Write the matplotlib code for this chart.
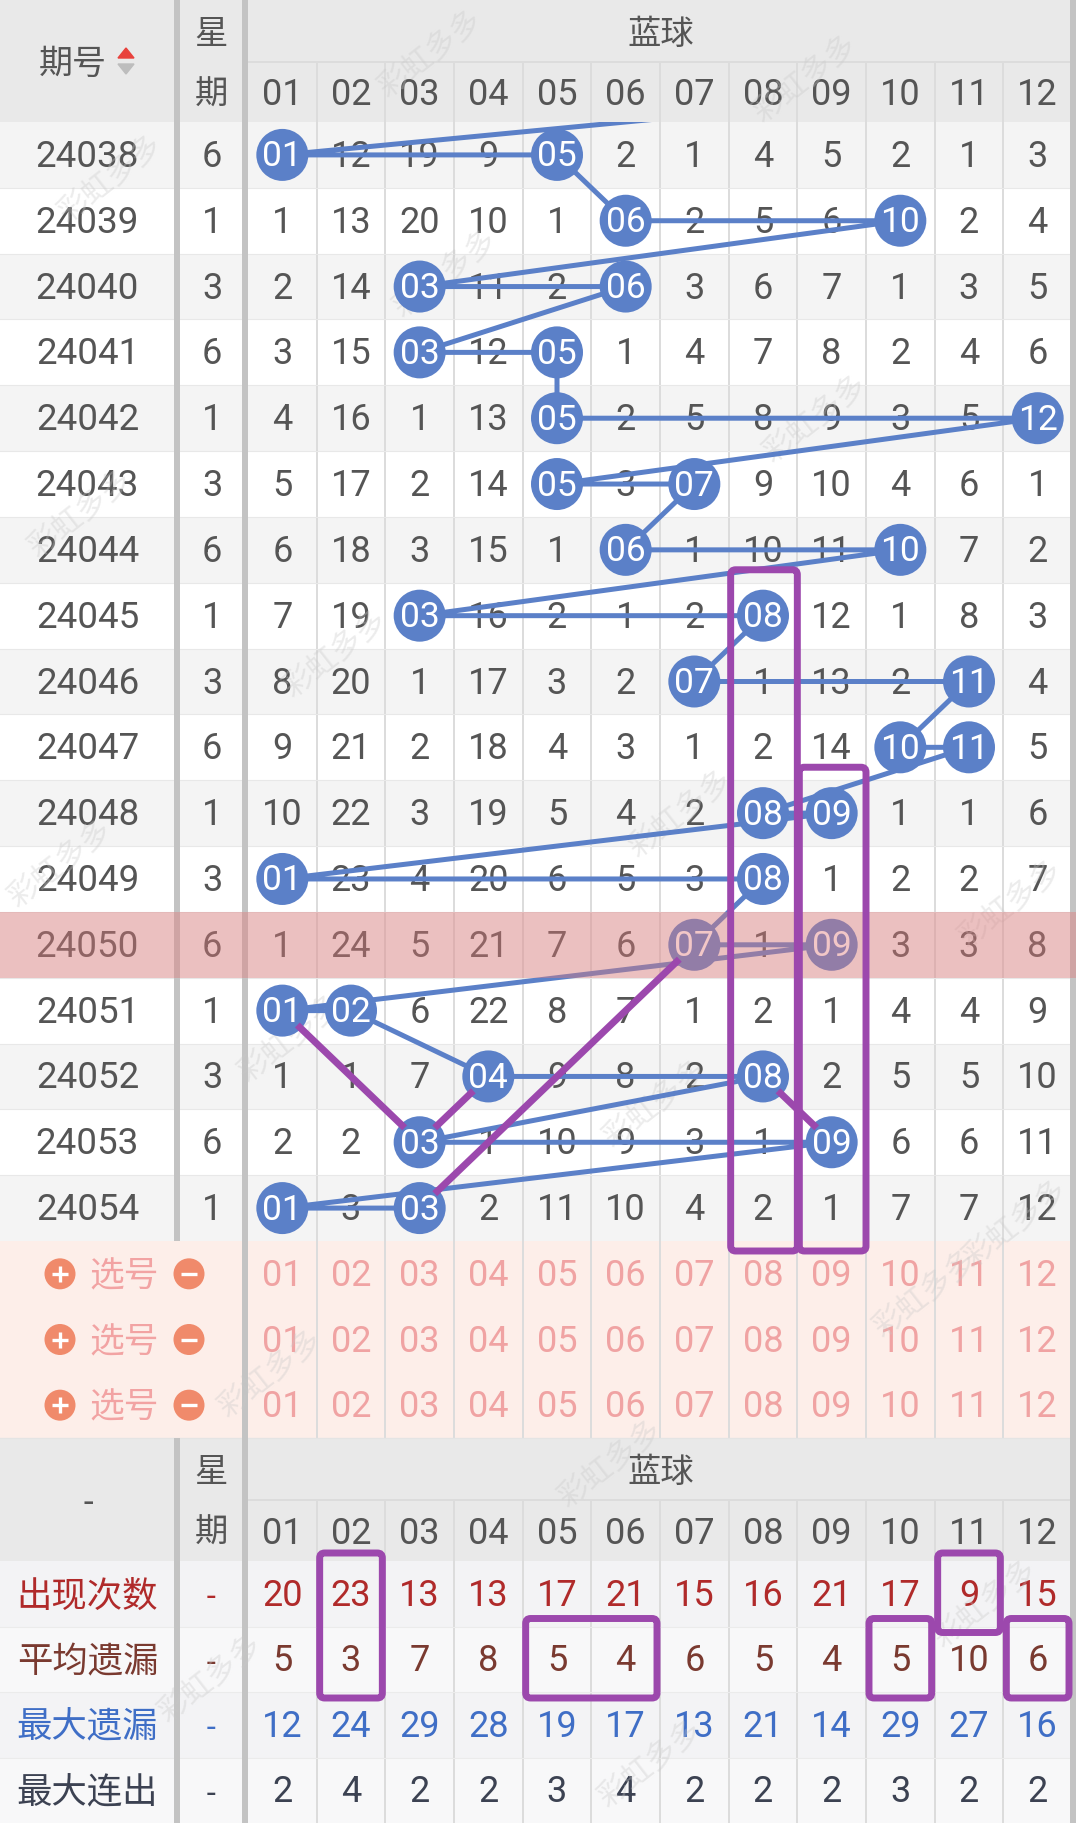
import matplotlib
matplotlib.use("Agg")
import matplotlib.pyplot as plt
from matplotlib.patches import Rectangle, Circle, FancyBboxPatch, Polygon

# ---------------- data ----------------
issues = [24038, 24039, 24040, 24041, 24042, 24043, 24044, 24045, 24046,
          24047, 24048, 24049, 24050, 24051, 24052, 24053, 24054]
weekdays = [6, 1, 3, 6, 1, 3, 6, 1, 3, 6, 1, 3, 6, 1, 3, 6, 1]
draws = [(1, 5), (6, 10), (3, 6), (3, 5), (5, 12), (5, 7), (6, 10), (3, 8),
         (7, 11), (10, 11), (8, 9), (1, 8), (7, 9), (1, 2), (4, 8), (3, 9), (1, 3)]
# omission count shown in each cell (0 = drawn ball)
omission = [
    [0, 12, 19, 9, 0, 2, 1, 4, 5, 2, 1, 3],
    [1, 13, 20, 10, 1, 0, 2, 5, 6, 0, 2, 4],
    [2, 14, 0, 11, 2, 0, 3, 6, 7, 1, 3, 5],
    [3, 15, 0, 12, 0, 1, 4, 7, 8, 2, 4, 6],
    [4, 16, 1, 13, 0, 2, 5, 8, 9, 3, 5, 0],
    [5, 17, 2, 14, 0, 3, 0, 9, 10, 4, 6, 1],
    [6, 18, 3, 15, 1, 0, 1, 10, 11, 0, 7, 2],
    [7, 19, 0, 16, 2, 1, 2, 0, 12, 1, 8, 3],
    [8, 20, 1, 17, 3, 2, 0, 1, 13, 2, 0, 4],
    [9, 21, 2, 18, 4, 3, 1, 2, 14, 0, 0, 5],
    [10, 22, 3, 19, 5, 4, 2, 0, 0, 1, 1, 6],
    [0, 23, 4, 20, 6, 5, 3, 0, 1, 2, 2, 7],
    [1, 24, 5, 21, 7, 6, 0, 1, 0, 3, 3, 8],
    [0, 0, 6, 22, 8, 7, 1, 2, 1, 4, 4, 9],
    [1, 1, 7, 0, 9, 8, 2, 0, 2, 5, 5, 10],
    [2, 2, 0, 1, 10, 9, 3, 1, 0, 6, 6, 11],
    [0, 3, 0, 2, 11, 10, 4, 2, 1, 7, 7, 12],
]
prev_last_ball = 11          # last ball of issue 24037 (line enters from above)
highlight_issue = 24050
ball_labels = ["01", "02", "03", "04", "05", "06", "07", "08", "09", "10", "11", "12"]
pick_rows = 3
stat_names = ["出现次数", "平均遗漏", "最大遗漏", "最大连出"]
appear_count = [20, 23, 13, 13, 17, 21, 15, 16, 21, 17, 9, 15]
avg_miss = [5, 3, 7, 8, 5, 4, 6, 5, 4, 5, 10, 6]
max_miss = [12, 24, 29, 28, 19, 17, 13, 21, 14, 29, 27, 16]
max_streak = [2, 4, 2, 2, 3, 4, 2, 2, 2, 3, 2, 2]
# user annotations
marked_columns = [(8, 24045, 24054), (9, 24048, 24054)]
marked_links = [((24051, 1), (24053, 3)), ((24053, 3), (24052, 4)),
                ((24054, 3), (24050, 7)), ((24052, 8), (24053, 9))]
marked_stats = [(2, 2, 0, 1), (5, 6, 1, 1), (10, 10, 1, 1), (11, 11, 0, 0), (12, 12, 1, 1)]
watermark_text = "彩虹多多"

# ---------------- layout ----------------
W, H = 1080, 1823
DIV1, DIV2, RIGHT = 177, 245, 1073
X0 = 248
CW = (1072 - X0) / 12
Y_H1, Y_H2, Y_D0 = 0, 62, 122
NROW = len(issues)
RH = (1241 - Y_D0) / NROW
Y_P0 = Y_D0 + RH * NROW
PRH = (1438 - Y_P0) / pick_rows
Y_B0 = Y_P0 + PRH * pick_rows
Y_B1 = Y_B0 + 62
Y_S0 = Y_B1 + 61
SRH = (H - Y_S0) / 4
R_BALL = 26

BLUE = "#5b80c8"
PURPLE = "#9c48ad"
TXT = "#555555"
HDR_BG = "#e9e9e9"
CJK = ["Noto Sans CJK SC", "DejaVu Sans"]
NUMF = ["Roboto", "DejaVu Sans"]


def cx(col):
    return X0 + (col - 0.5) * CW


def cy(row):
    return Y_D0 + (row + 0.5) * RH


fig = plt.figure(figsize=(W / 100, H / 100), dpi=100)
ax = fig.add_axes([0, 0, 1, 1])
ax.set_xlim(0, W)
ax.set_ylim(H, 0)
ax.axis("off")


def rect(x0, y0, x1, y1, color, z=0, **kw):
    ax.add_patch(Rectangle((x0, y0), x1 - x0, y1 - y0, facecolor=color,
                           edgecolor="none", zorder=z, **kw))


def num(x, y, s, color=TXT, size=26, z=2, **kw):
    ax.text(x, y + 2, s, ha="center", va="center", fontsize=size, color=color,
            family=NUMF, zorder=z, **kw)


def cjk(x, y, s, color=TXT, size=24, z=2, **kw):
    ax.text(x, y + 3, s, ha="center", va="center", fontsize=size, color=color,
            family=CJK, zorder=z, **kw)


# ---------------- backgrounds ----------------
rect(0, 0, W, H, "white", z=-1)
rect(0, Y_H1, RIGHT, Y_D0, HDR_BG)
for i in range(NROW):
    rect(0, Y_D0 + i * RH, RIGHT, Y_D0 + (i + 1) * RH, "#f4f4f4" if i % 2 == 0 else "white")
rect(0, Y_P0, RIGHT, Y_B0, "#fdeee9")
rect(0, Y_B0, RIGHT, Y_S0, HDR_BG)
for i in range(4):
    rect(0, Y_S0 + i * SRH, RIGHT, Y_S0 + (i + 1) * SRH, "#f3f3f5" if i % 2 == 0 else "#f8f8f9")

# ---------------- grid lines ----------------
thin = dict(color="#dcdcdc", lw=1.4, zorder=1)
for c in range(1, 12):
    x = X0 + c * CW
    ax.plot([x, x], [Y_H2, Y_B0], **thin)
    ax.plot([x, x], [Y_B1, H], **thin)
ax.plot([X0, RIGHT], [Y_H2, Y_H2], **thin)
ax.plot([X0, RIGHT], [Y_B1, Y_B1], **thin)
for i in range(1, NROW):
    y = Y_D0 + i * RH
    ax.plot([0, RIGHT], [y, y], color="#e8e8e8", lw=0.8, zorder=1)
for i in range(1, 4):
    y = Y_S0 + i * SRH
    ax.plot([0, RIGHT], [y, y], color="#ebebeb", lw=0.8, zorder=1)
ax.plot([0, RIGHT], [Y_B0, Y_B0], color="#e4e4e4", lw=1.0, zorder=1)
thick = dict(color="#c3c3c3", lw=4.3, zorder=1.5, solid_capstyle="butt")
ax.plot([DIV1, DIV1], [0, Y_P0], **thick)
ax.plot([DIV1, DIV1], [Y_B0, H], **thick)
ax.plot([DIV2, DIV2], [0, H], **thick)
ax.plot([RIGHT, RIGHT], [0, H], **thick)

# ---------------- watermarks ----------------
wm_spots = [(110, 180), (430, 55), (805, 80), (445, 275), (80, 515), (815, 420),
            (335, 655), (680, 815), (60, 865), (1010, 905), (290, 1040), (655, 1105),
            (1015, 1225), (270, 1375), (925, 1295), (610, 1465), (210, 1680),
            (985, 1605), (650, 1765)]
for (wx, wy) in wm_spots:
    ax.text(wx, wy, watermark_text, rotation=38, ha="center", va="center",
            fontsize=22, color="#c8c8c8", alpha=0.35, family=CJK, zorder=2.5)

# ---------------- header ----------------
cjk(DIV1 / 2 - 16, (Y_H1 + Y_D0) / 2, "期号", size=24.5)
ax.add_patch(Polygon([[118, 58], [134, 58], [126, 48]], closed=True, color="#e8413c", zorder=2))
ax.add_patch(Polygon([[118, 64], [134, 64], [126, 74]], closed=True, color="#bdbdbd", zorder=2))
cjk((DIV1 + DIV2) / 2, (Y_H1 + Y_H2) / 2, "星")
cjk((DIV1 + DIV2) / 2, (Y_H2 + Y_D0) / 2, "期")
cjk((X0 + RIGHT) / 2, (Y_H1 + Y_H2) / 2, "蓝球")
for c, lab in enumerate(ball_labels, start=1):
    num(cx(c), (Y_H2 + Y_D0) / 2 + 1, lab)

# ---------------- data rows ----------------
for r, (iss, wk, row) in enumerate(zip(issues, weekdays, omission)):
    num(DIV1 / 2 - 1, cy(r), str(iss), size=26.5)
    num((DIV1 + DIV2) / 2 + 1, cy(r), str(wk))
    for c, v in enumerate(row, start=1):
        if v != 0:
            num(cx(c), cy(r), str(v))

# connecting line
px = [cx(prev_last_ball)]
py = [cy(-1)]
for r, (a, b) in enumerate(draws):
    lo, hi = sorted((a, b))
    px += [cx(lo), cx(hi)]
    py += [cy(r), cy(r)]
clip = Rectangle((X0, Y_D0), RIGHT - X0, Y_P0 - Y_D0, transform=ax.transData)
ln, = ax.plot(px, py, color=BLUE, lw=3.6, zorder=3, solid_joinstyle="round")
ln.set_clip_path(clip)

for r, pair in enumerate(draws):
    for b in pair:
        ax.add_patch(Circle((cx(b), cy(r)), R_BALL, facecolor=BLUE, edgecolor="none", zorder=4))
        num(cx(b), cy(r), ball_labels[b - 1], color="white", size=25.5, z=5)

# highlighted issue overlay
hr = issues.index(highlight_issue)
rect(0, Y_D0 + hr * RH, RIGHT + 3, Y_D0 + (hr + 1) * RH, "#e07a7a", z=6, alpha=0.42)

# ---------------- pick rows ----------------
for p in range(pick_rows):
    y = Y_P0 + (p + 0.5) * PRH
    for xc, sign in ((60, "+"), (189, "-")):
        ax.add_patch(Circle((xc, y), 15.5, facecolor="#f08a6b", edgecolor="none", zorder=2))
        ax.plot([xc - 8, xc + 8], [y, y], color="white", lw=2.4, zorder=3, solid_capstyle="butt")
        if sign == "+":
            ax.plot([xc, xc], [y - 8, y + 8], color="white", lw=2.4, zorder=3, solid_capstyle="butt")
    cjk(124, y, "选号", color="#f2a3a3", size=25)
    for c, lab in enumerate(ball_labels, start=1):
        num(cx(c), y, lab, color="#f0a3a3")

# ---------------- bottom stats ----------------
cjk(DIV1 / 2, (Y_B0 + Y_S0) / 2, "-")
cjk((DIV1 + DIV2) / 2, (Y_B0 + Y_B1) / 2, "星")
cjk((DIV1 + DIV2) / 2, (Y_B1 + Y_S0) / 2, "期")
cjk((X0 + RIGHT) / 2, (Y_B0 + Y_B1) / 2, "蓝球")
for c, lab in enumerate(ball_labels, start=1):
    num(cx(c), (Y_B1 + Y_S0) / 2 + 1, lab)

stat_colors = ["#b02a2a", "#7a3a30", "#3f6ec6", "#3c4252"]
stat_values = [appear_count, avg_miss, max_miss, max_streak]
for i, (name, vals, col) in enumerate(zip(stat_names, stat_values, stat_colors)):
    y = Y_S0 + (i + 0.5) * SRH
    cjk(DIV1 / 2 - 1, y, name, color=col, size=25.5)
    cjk((DIV1 + DIV2) / 2, y, "-", color=col, size=22)
    for c, v in enumerate(vals, start=1):
        num(cx(c), y, str(v), color=col)

# ---------------- annotations ----------------
for col, i0, i1 in marked_columns:
    r0, r1 = issues.index(i0), issues.index(i1)
    x0 = X0 + (col - 1) * CW + 2
    y0 = Y_D0 + r0 * RH - 13
    y1 = Y_D0 + (r1 + 1) * RH + 10
    ax.add_patch(FancyBboxPatch((x0, y0), CW - 2, y1 - y0,
                                boxstyle="round,pad=0,rounding_size=5",
                                facecolor="none", edgecolor=PURPLE, lw=5, zorder=7))

for (ia, ca), (ib, cb) in marked_links:
    xa, ya = cx(ca), cy(issues.index(ia))
    xb, yb = cx(cb), cy(issues.index(ib))
    dx, dy = xb - xa, yb - ya
    d = (dx ** 2 + dy ** 2) ** 0.5
    s = 0.8 * R_BALL / d
    ax.plot([xa + dx * s, xb - dx * s], [ya + dy * s, yb - dy * s],
            color=PURPLE, lw=5, zorder=7, solid_capstyle="butt")

for c0, c1, s0, s1 in marked_stats:
    x0 = X0 + (c0 - 1) * CW + 3
    x1 = X0 + c1 * CW - 3
    y0 = Y_S0 + s0 * SRH - 8
    y1 = Y_S0 + (s1 + 1) * SRH + 6
    ax.add_patch(FancyBboxPatch((x0, y0), x1 - x0, y1 - y0,
                                boxstyle="round,pad=0,rounding_size=5",
                                facecolor="none", edgecolor=PURPLE, lw=5, zorder=7))

fig.savefig("out.png", dpi=100)
